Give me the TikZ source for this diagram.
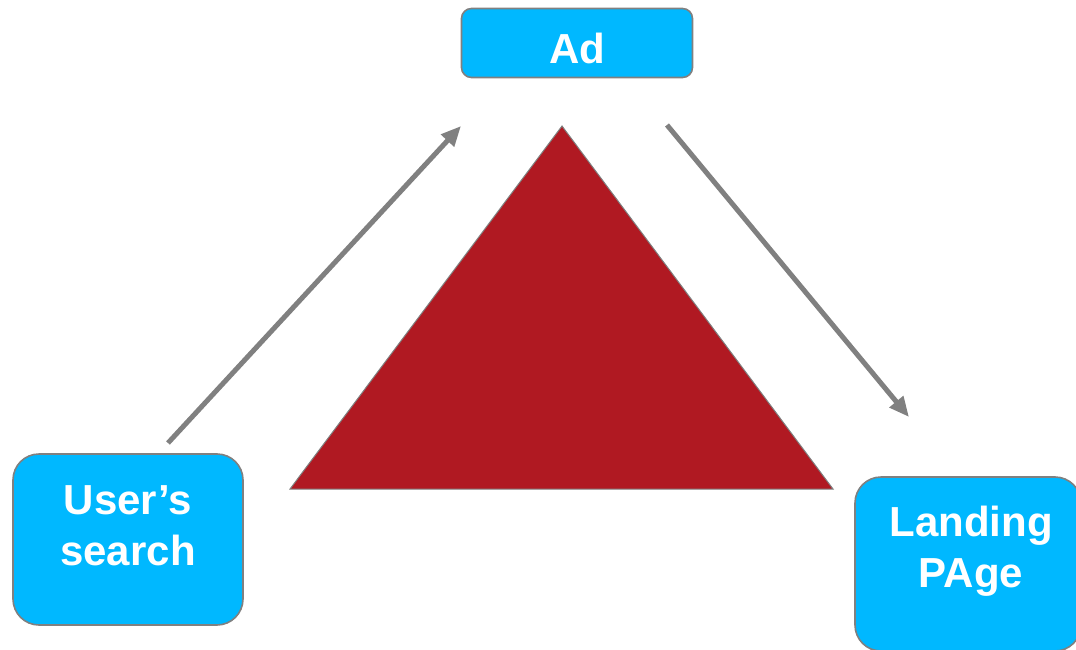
\documentclass[tikz,border=0pt]{standalone}
\usepackage{fontspec}
\setmainfont{Liberation Sans}
\usetikzlibrary{arrows.meta}
\definecolor{boxblue}{RGB}{0,184,255}
\definecolor{tri}{RGB}{176,25,34}
\definecolor{edge}{RGB}{128,128,128}
\begin{document}
\begin{tikzpicture}[x=1pt,y=-1pt,
  box/.style={draw=edge,line width=1.6pt,fill=boxblue,rectangle,inner sep=0pt},
  lbl/.style={text=white,font=\bfseries\fontsize{42}{51}\selectfont,align=center,inner sep=0pt},
  conn/.style={draw=edge,line width=5pt,-{Triangle[length=20pt,width=17pt]}}]
\useasboundingbox (0,0) rectangle (1076,650);
\begin{scope}
\clip (0,0) rectangle (1076,650);
% triangle
\draw[draw=edge,line width=1pt,fill=tri] (562,126) -- (290,489) -- (833,489) -- cycle;
% boxes
\node[box,rounded corners=10pt,minimum width=231pt,minimum height=69pt] (ad) at (577,43) {};
\node[box,rounded corners=26pt,minimum width=230pt,minimum height=171pt] (us) at (128,539.5) {};
\node[box,rounded corners=26pt,minimum width=226pt,minimum height=174pt] (lp) at (968,564) {};
% labels
\node[lbl,anchor=base] (adt) at (577,64) {Ad};
\node[lbl] (ust) at (128,526) {User’s\\search};
\node[lbl] (lpt) at (971,551) {Landing\\PAge};
% connectors
\coordinate (a1) at (168,443);
\coordinate (a2) at (461,126);
\coordinate (b1) at (667,125);
\coordinate (b2) at (909,417);
\draw[conn] (a1) -- (a2);
\draw[conn] (b1) -- (b2);
\end{scope}
\end{tikzpicture}
\end{document}
